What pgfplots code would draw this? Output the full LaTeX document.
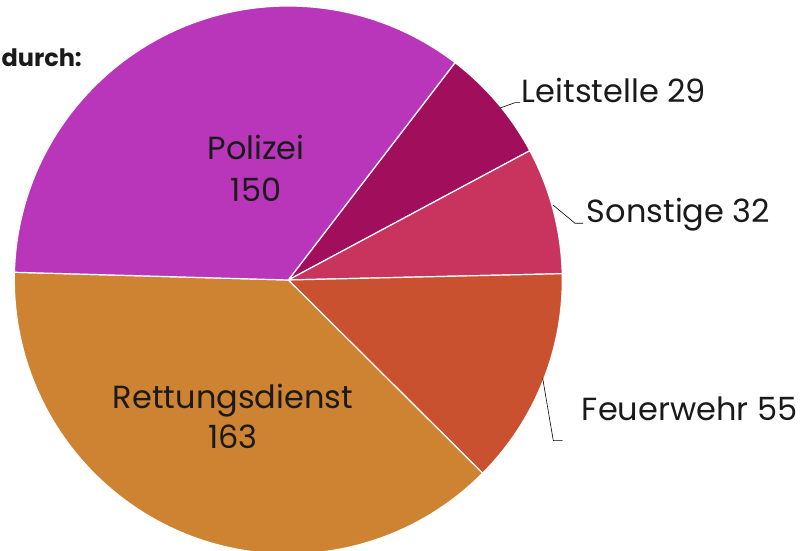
\documentclass[border=0pt]{standalone}
\usepackage{pgfplots}
\pgfplotsset{compat=1.18}
\usepackage{fontspec}
\setmainfont{Poppins}
\definecolor{cPol}{HTML}{B935B9}
\definecolor{cLeit}{HTML}{A10F5C}
\definecolor{cSon}{HTML}{C9345F}
\definecolor{cFeu}{HTML}{C95130}
\definecolor{cRet}{HTML}{CE8332}
\definecolor{txt}{HTML}{1A1A1A}
% data (clockwise, starting at Leitstelle)
\def\vLeit{29}\def\vSon{32}\def\vFeu{55}\def\vRet{163}\def\vPol{150}
\pgfmathsetmacro\tot{\vLeit+\vSon+\vFeu+\vRet+\vPol}
\pgfmathsetmacro\aA{52.5}
\pgfmathsetmacro\aB{\aA-\vLeit/\tot*360}
\pgfmathsetmacro\aC{\aB-\vSon/\tot*360}
\pgfmathsetmacro\aD{\aC-\vFeu/\tot*360}
\pgfmathsetmacro\aE{\aD-\vRet/\tot*360}
\pgfmathsetmacro\aF{\aE-\vPol/\tot*360}
\def\R{274bp}
\newcommand\slice[3]{\fill[#3,draw=white,line width=1.2bp,line join=round]
  (axis cs:288.3,271) -- ++(#1:\R) arc[start angle=#1,end angle=#2,radius=\R] -- cycle;}
\begin{document}
\begin{tikzpicture}
\begin{axis}[width=803bp,height=551bp,scale only axis,
  xmin=0,xmax=803,ymin=0,ymax=551,hide axis,clip=true]
\slice{\aA}{\aB}{cLeit}
\slice{\aB}{\aC}{cSon}
\slice{\aC}{\aD}{cFeu}
\slice{\aD}{\aE}{cRet}
\slice{\aE}{\aF}{cPol}
\draw[black,line width=0.6bp] (axis cs:500,443) -- (axis cs:515,448.3) -- (axis cs:520,448.3);
\draw[black,line width=0.6bp] (axis cs:553,346) -- (axis cs:575,327.7) -- (axis cs:583,327.7);
\draw[black,line width=0.6bp] (axis cs:542.7,172.7) -- (axis cs:553.3,110.3) -- (axis cs:562.7,110.3);
\begin{scope}[every node/.style={inner sep=0pt,text=txt,font=\fontsize{32bp}{38bp}\selectfont}]
\node[anchor=base] at (axis cs:256,391.7) {Polizei};
\node[anchor=base] at (axis cs:256,349.3) {150};
\node[anchor=base] at (axis cs:233,142.7) {Rettungsdienst};
\node[anchor=base] at (axis cs:233,102.7) {163};
\node[anchor=base west] at (axis cs:521.7,448.3) {Leitstelle 29};
\node[anchor=base west] at (axis cs:586.7,328.7) {Sonstige 32};
\node[anchor=base west] at (axis cs:581.7,130.3) {Feuerwehr 55};
\end{scope}
\node[anchor=base east,inner sep=0pt,text=txt,font=\fontsize{24bp}{28bp}\selectfont\bfseries] at (axis cs:82,484.3) {durch:};
\coordinate (SW) at (axis cs:0,0);
\coordinate (NE) at (axis cs:803,551);
\end{axis}
\pgfresetboundingbox
\useasboundingbox (SW) rectangle (NE);
\end{tikzpicture}
\end{document}
